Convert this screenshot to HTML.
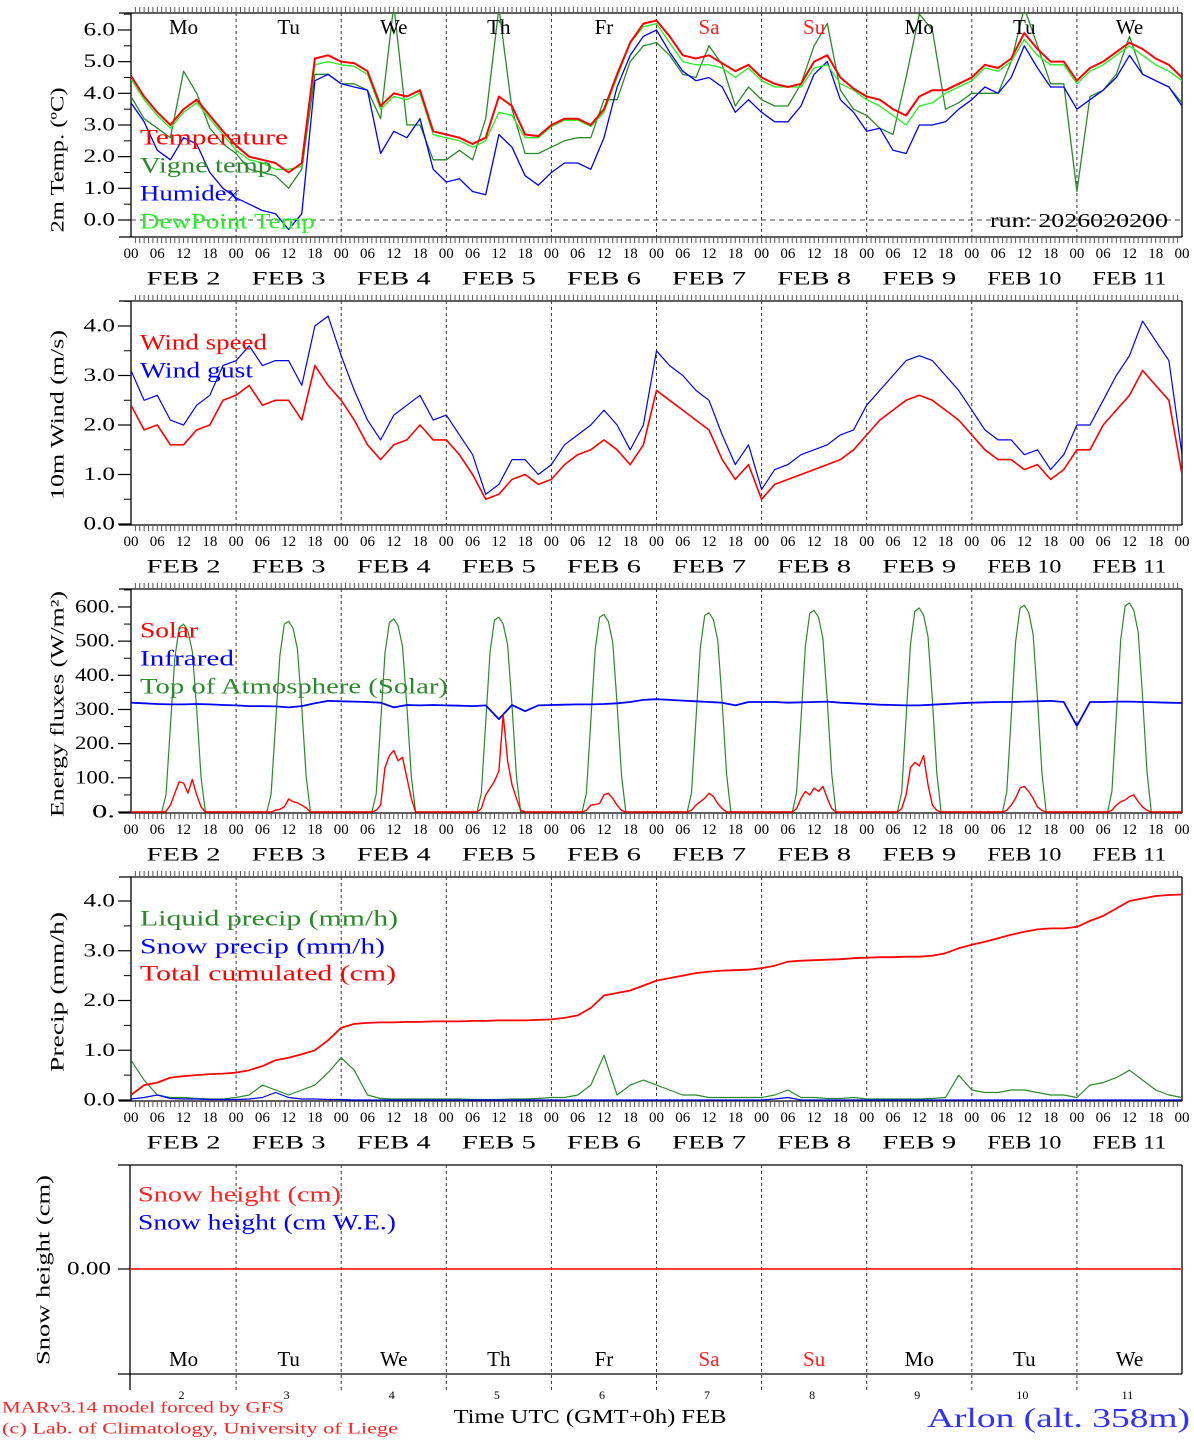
<!DOCTYPE html>
<html><head><meta charset="utf-8"><title>MAR meteogram Arlon</title>
<style>
html,body{margin:0;padding:0;background:#fff;}
svg{display:block;font-family:"Liberation Serif",serif;}
</style></head>
<body>
<svg id="chart" xmlns="http://www.w3.org/2000/svg" width="1194" height="1440" viewBox="0 0 1194 1440">
<defs>
<clipPath id="c1"><rect x="131" y="13" width="1051" height="224"/></clipPath>
<clipPath id="c2"><rect x="131" y="301" width="1051" height="224"/></clipPath>
<clipPath id="c3"><rect x="131" y="589" width="1051" height="224"/></clipPath>
<clipPath id="c4"><rect x="131" y="877" width="1051" height="224"/></clipPath>
</defs>
<g id="root"></g>
</svg>
<script>
// ---- data (3-hourly, 00h Feb 2 .. 00h Feb 12) ----
const dayNames = ["Mo","Tu","We","Th","Fr","Sa","Su","Mo","Tu","We"];
const dayDates = ["2","3","4","5","6","7","8","9","10","11"];
const hourLabels = ["00","06","12","18"];
const temperature = [4.55,3.9,3.4,3.0,3.5,3.8,3.3,2.8,
 2.35,2.0,1.9,1.8,1.5,1.8,5.1,5.2,
 5.0,4.95,4.7,3.6,4.0,3.9,4.1,2.8,
 2.7,2.6,2.4,2.6,3.9,3.6,2.7,2.65,
 3.0,3.2,3.2,3.0,3.5,4.6,5.6,6.2,
 6.3,5.8,5.2,5.1,5.2,4.95,4.7,4.9,
 4.5,4.3,4.2,4.3,5.0,5.2,4.5,4.15,
 3.9,3.8,3.5,3.3,3.9,4.1,4.1,4.3,
 4.5,4.9,4.8,5.1,5.9,5.4,5.0,5.0,
 4.4,4.8,5.0,5.3,5.6,5.4,5.1,4.9,4.5];
const dewPoint = [4.45,3.8,3.3,2.9,3.4,3.7,3.2,2.7,
 2.2,1.9,1.8,1.6,1.6,1.7,4.9,5.0,
 4.9,4.85,4.6,3.5,3.9,3.8,4.0,2.7,
 2.6,2.5,2.3,2.5,3.4,3.3,2.6,2.6,
 2.95,3.15,3.15,2.95,3.4,4.5,5.6,6.1,
 6.2,5.6,5.0,4.9,4.9,4.8,4.5,4.8,
 4.4,4.2,4.2,4.2,4.8,4.9,4.3,4.1,
 3.8,3.6,3.3,3.0,3.6,3.7,4.0,4.2,
 4.4,4.8,4.7,5.0,5.7,5.2,4.9,4.9,
 4.3,4.7,4.9,5.2,5.5,5.2,4.9,4.7,4.4];
const vigneTemp = [3.9,3.2,2.9,2.6,4.7,4.0,2.9,2.4,
 2.1,1.6,1.5,1.4,1.0,1.6,4.6,4.6,
 4.3,4.3,4.1,3.2,6.8,3.0,3.0,1.9,
 1.9,2.2,1.9,3.2,6.7,3.5,2.1,2.1,
 2.3,2.5,2.6,2.6,3.8,3.8,5.0,5.5,
 5.6,5.2,4.6,4.5,5.5,4.9,3.6,4.2,
 3.8,3.6,3.6,4.3,5.5,6.2,4.1,3.5,
 3.3,2.9,2.7,4.5,6.5,6.0,3.5,3.7,
 4.0,4.0,4.0,5.0,6.7,5.5,4.3,4.3,
 0.9,3.9,4.1,4.6,5.8,4.6,4.4,4.2,3.7];
const humidex = [3.7,3.1,2.2,1.9,2.6,2.4,1.5,1.0,
 0.7,0.5,0.3,0.2,-0.3,0.2,4.4,4.6,
 4.3,4.2,4.1,2.1,2.8,2.6,3.2,1.6,
 1.2,1.3,0.9,0.8,2.7,2.3,1.4,1.1,
 1.5,1.8,1.8,1.6,2.6,4.2,5.2,5.8,
 6.0,5.3,4.7,4.4,4.5,4.2,3.4,3.8,
 3.4,3.1,3.1,3.6,4.6,5.0,3.8,3.4,
 2.8,2.9,2.2,2.1,3.0,3.0,3.1,3.5,
 3.8,4.2,4.0,4.5,5.5,4.8,4.2,4.2,
 3.5,3.8,4.1,4.5,5.2,4.6,4.4,4.2,3.6];
const windSpeed = [2.4,1.9,2.0,1.6,1.6,1.9,2.0,2.5,
 2.6,2.8,2.4,2.5,2.5,2.1,3.2,2.8,
 2.5,2.1,1.6,1.3,1.6,1.7,2.0,1.7,
 1.7,1.4,1.0,0.5,0.6,0.9,1.0,0.8,
 0.9,1.2,1.4,1.5,1.7,1.5,1.2,1.6,
 2.7,2.5,2.3,2.1,1.9,1.3,0.9,1.2,
 0.5,0.8,0.9,1.0,1.1,1.2,1.3,1.5,
 1.8,2.1,2.3,2.5,2.6,2.5,2.3,2.1,
 1.8,1.5,1.3,1.3,1.1,1.2,0.9,1.1,
 1.5,1.5,2.0,2.3,2.6,3.1,2.8,2.5,1.0];
const windGust = [3.1,2.5,2.6,2.1,2.0,2.4,2.6,3.2,
 3.3,3.6,3.2,3.3,3.3,2.8,4.0,4.2,
 3.4,2.7,2.1,1.7,2.2,2.4,2.6,2.1,
 2.2,1.8,1.4,0.6,0.8,1.3,1.3,1.0,
 1.2,1.6,1.8,2.0,2.3,2.0,1.5,2.0,
 3.5,3.2,3.0,2.7,2.5,1.8,1.2,1.6,
 0.7,1.1,1.2,1.4,1.5,1.6,1.8,1.9,
 2.4,2.7,3.0,3.3,3.4,3.3,3.0,2.7,
 2.3,1.9,1.7,1.7,1.4,1.5,1.1,1.4,
 2.0,2.0,2.5,3.0,3.4,4.1,3.7,3.3,1.4];
const infrared = [320,318,316,315,315,316,315,313,
 312,310,310,309,306,310,318,325,
 324,323,322,320,306,313,312,313,
 312,311,310,312,272,313,295,312,
 313,314,315,315,316,318,322,328,
 330,328,326,324,322,320,312,322,
 322,322,320,321,322,323,320,318,
 316,314,313,312,312,314,316,318,
 320,321,322,322,323,324,325,322,
 252,322,322,323,323,322,321,320,319];
// hourly daytime values (07h..17h) per day
const solarDay = [
 [0,2,20,55,88,85,55,95,50,15,0],
 [0,0,5,8,15,38,30,27,20,12,0],
 [0,5,20,130,165,180,150,160,100,40,0],
 [0,10,50,70,90,120,285,150,80,40,5],
 [0,5,20,22,25,50,55,40,20,5,0],
 [0,5,20,30,40,55,45,25,10,0,0],
 [0,10,40,60,50,70,60,75,40,10,0],
 [0,10,50,130,145,135,165,80,20,5,0],
 [0,5,20,40,70,75,60,40,15,5,0],
 [0,5,20,30,35,45,50,30,15,5,0]];
const toaDay = [
 [0,50,250,450,540,550,530,470,300,100,0],
 [0,52,255,458,550,558,538,478,305,102,0],
 [0,53,260,465,555,565,545,485,310,104,0],
 [0,54,262,470,562,570,550,490,312,106,0],
 [0,55,266,476,570,578,558,497,316,108,0],
 [0,56,268,480,575,583,563,502,320,110,0],
 [0,57,272,486,582,590,570,508,324,112,0],
 [0,58,275,492,588,597,576,514,328,114,0],
 [0,59,279,498,596,605,584,520,332,116,0],
 [0,60,282,504,603,612,590,526,336,118,0]];
const liquidPrecip = [0.8,0.4,0.1,0.05,0.05,0.03,0.02,0.02,
 0.05,0.1,0.3,0.2,0.1,0.2,0.3,0.55,
 0.85,0.6,0.1,0.03,0.02,0.02,0.02,0.02,
 0.02,0.02,0.01,0.01,0.01,0.02,0.02,0.03,
 0.05,0.05,0.1,0.3,0.9,0.1,0.3,0.4,
 0.3,0.2,0.1,0.1,0.05,0.05,0.05,0.05,
 0.05,0.1,0.2,0.05,0.05,0.03,0.03,0.05,
 0.02,0.02,0.02,0.02,0.02,0.03,0.05,0.5,
 0.2,0.15,0.15,0.2,0.2,0.15,0.1,0.1,
 0.05,0.3,0.35,0.45,0.6,0.4,0.2,0.1,0.05];
const snowPrecip = [0.02,0.05,0.1,0.03,0.02,0.02,0.01,0.01,
 0.01,0.02,0.05,0.15,0.05,0.02,0.02,0.01,
 0.01,0,0,0,0,0,0,0, 0,0,0,0,0,0,0,0,
 0,0,0,0,0,0,0,0, 0,0,0,0,0,0,0,0,
 0,0.02,0.05,0,0,0,0,0, 0,0,0,0,0,0,0,0,
 0,0,0,0,0,0,0,0, 0,0,0,0,0,0,0,0,0];
const totalCumul = [0.1,0.3,0.35,0.45,0.48,0.5,0.52,0.53,
 0.55,0.6,0.68,0.8,0.85,0.92,1.0,1.2,
 1.45,1.53,1.55,1.56,1.56,1.57,1.57,1.58,
 1.58,1.58,1.59,1.59,1.6,1.6,1.6,1.61,
 1.62,1.65,1.7,1.85,2.1,2.15,2.2,2.3,
 2.4,2.45,2.5,2.55,2.58,2.6,2.61,2.62,
 2.65,2.7,2.78,2.8,2.81,2.82,2.83,2.85,
 2.86,2.87,2.87,2.88,2.88,2.9,2.95,3.05,
 3.12,3.18,3.25,3.32,3.38,3.43,3.45,3.45,
 3.48,3.6,3.7,3.85,4.0,4.05,4.1,4.12,4.13];
const snowHeight = [0,0];
const p1Ticks = ["0.0","1.0","2.0","3.0","4.0","5.0","6.0"];
const p2Ticks = ["0.0","1.0","2.0","3.0","4.0"];
const p3Ticks = ["0.","100.","200.","300.","400.","500.","600."];
const p4Ticks = ["0.0","1.0","2.0","3.0","4.0"];

// ---- layout ----
const NS="http://www.w3.org/2000/svg";
const root=document.getElementById('root');
const X0=131, X1=1182, HOURS=240;
function xh(h){return X0+(X1-X0)*h/HOURS;}
function mk(tag,attrs,parent){const e=document.createElementNS(NS,tag);for(const k in attrs)e.setAttribute(k,attrs[k]);(parent||root).appendChild(e);return e;}
function txt(s,x,y,size,fill,anchor,extra){const t=mk('text',Object.assign({x:x,y:y,'font-size':size,fill:fill||'#000','text-anchor':anchor||'start','dominant-baseline':'central'},extra||{}));t.textContent=s;return t;}
function yScale(top,zeroY,perUnit){return v=>zeroY-v*perUnit;}

const panels=[
 {top:13,zero:220,per:31.67,tc:160,tl:145},
 {top:301,zero:524,per:49.5,tc:415,tl:170},
 {top:589,zero:812,per:0.3417,tc:704,tl:226},
 {top:877,zero:1100,per:49.75,tc:992,tl:160}];

function frame(p,idx,ticks,step,minor,title){
 const bot=p.top+224, ys=yScale(p.top,p.zero,p.per);
 const g=mk('g',{});
 
 
 mk('line',{x1:119,y1:p.top,x2:X1,y2:p.top,stroke:'#000','stroke-width':1.3},g);
 mk('line',{x1:119,y1:bot,x2:X1,y2:bot,stroke:'#000','stroke-width':1.3},g);
 mk('line',{x1:X0,y1:p.top,x2:X0,y2:bot,stroke:'#000','stroke-width':1.3},g);
 mk('line',{x1:X1,y1:p.top,x2:X1,y2:bot,stroke:'#000','stroke-width':1.3},g);
 for(let h=1;h<HOURS;h++){const x=xh(h);
  mk('line',{x1:x,y1:p.top-6,x2:x,y2:p.top,stroke:'#555','stroke-width':1},g);
  mk('line',{x1:x,y1:bot,x2:x,y2:bot+6,stroke:'#555','stroke-width':1},g);}
 for(let d=1;d<10;d++){const x=xh(d*24);
  mk('line',{x1:x,y1:p.top,x2:x,y2:bot,stroke:'#333','stroke-width':1,'stroke-dasharray':'3,3'},g);}
 ticks.forEach((lab,i)=>{const y=ys(i*step);
  mk('line',{x1:118,y1:y,x2:X0,y2:y,stroke:'#000','stroke-width':1.2},g);
  const t=txt(lab,115,y,19,'#000','end',{textLength:lab.length*8.5+6,lengthAdjust:'spacingAndGlyphs'});
  
  
  const ym=ys(i*step+minor);
  if(ym>p.top) mk('line',{x1:124,y1:ym,x2:X0,y2:ym,stroke:'#000','stroke-width':1},g);
 });
 const cy=p.tc;
 const tt=txt(title,58,cy,19,'#000','middle',{transform:'rotate(-90 58 '+cy+')',textLength:p.tl,lengthAdjust:'spacingAndGlyphs'});
 
 
 for(let d=0;d<10;d++){
  hourLabels.forEach((hl,k)=>{const t=txt(hl,xh(d*24+k*6),bot+17,15,'#000','middle');
   
   });
  const fb=txt('FEB '+(dayDates[d].length<2?' ':'')+dayDates[d],xh(d*24+12),bot+42,19,'#000','middle',{'xml:space':'preserve',textLength:74,lengthAdjust:'spacingAndGlyphs'});
  
  
 }
 const t0=txt('00',X1,bot+17,15,'#000','middle');
 
 
 return ys;
}
function series(vals,stepH,ys,color,width,clip,name){
 const pts=vals.map((v,i)=>xh(i*stepH).toFixed(1)+','+ys(v).toFixed(1)).join(' ');
 const pl=mk('polyline',{points:pts,fill:'none',stroke:color,'stroke-width':width,'clip-path':'url(#'+clip+')','stroke-linejoin':'round'});
 
 
}
function hourlyFromDays(days){const a=new Array(HOURS+1).fill(0);days.forEach((arr,d)=>arr.forEach((v,k)=>{a[d*24+7+k]=v;}));return a;}
function legend(s,x,y,color,len){const t=txt(s,x,y,22,color,'start',{textLength:len,lengthAdjust:'spacingAndGlyphs'});
 
 }

// Panel 1
const ys1=frame(panels[0],0,p1Ticks,1,0.5,'2m Temp. (\u00BAC)');
const zl=mk('line',{x1:X0,y1:ys1(0),x2:X1,y2:ys1(0),stroke:'#444','stroke-width':1,'stroke-dasharray':'5,4'});


series(vigneTemp,3,ys1,'#2a8a2a',1.3,'c1','vigne-temp-line');
series(humidex,3,ys1,'#0000ff',1.3,'c1','humidex-line');
series(dewPoint,3,ys1,'#22ee22',1.3,'c1','dewpoint-line');
series(temperature,3,ys1,'#ff0000',2,'c1','temperature-line');
dayNames.forEach((n,d)=>{const t=txt(n,xh(d*24+12),27,21,(n==='Sa'||n==='Su')?'#ff2020':'#000','middle');
 
 });
legend('Temperature',140,137,'#ff0000',148);
legend('Vigne temp',140,165,'#2a8a2a',132);
legend('Humidex',140,193,'#0000ff',100);
legend('DewPoint Temp',140,221,'#22ee22',175);
const run=txt('run: 2026020200',1168,221,20,'#000','end',{textLength:178,lengthAdjust:'spacingAndGlyphs'});



// Panel 2
const ys2=frame(panels[1],1,p2Ticks,1,0.5,'10m Wind (m/s)');
series(windGust,3,ys2,'#0000ff',1.2,'c2','wind-gust-line');
series(windSpeed,3,ys2,'#ff0000',1.6,'c2','wind-speed-line');
legend('Wind speed',140,342,'#ff0000',127);
legend('Wind gust',140,370,'#0000ff',113);

// Panel 3
const ys3=frame(panels[2],2,p3Ticks,100,50,'Energy fluxes (W/m\u00B2)');
series(hourlyFromDays(toaDay),1,ys3,'#2a8a2a',1.2,'c3','toa-solar-line');
series(infrared,3,ys3,'#0000ff',1.8,'c3','infrared-line');
series(hourlyFromDays(solarDay),1,ys3,'#ff0000',1.4,'c3','solar-line');
legend('Solar',140,630,'#ff0000',58);
legend('Infrared',140,658,'#0000ff',94);
legend('Top of Atmosphere (Solar)',140,686,'#2a8a2a',308);

// Panel 4
const ys4=frame(panels[3],3,p4Ticks,1,0.5,'Precip (mm/h)');
series(liquidPrecip,3,ys4,'#2a8a2a',1.2,'c4','liquid-precip-line');
series(snowPrecip,3,ys4,'#0000ff',1.2,'c4','snow-precip-line');
series(totalCumul,3,ys4,'#ff0000',1.8,'c4','total-cumulated-line');
legend('Liquid precip (mm/h)',140,918,'#2a8a2a',258);
legend('Snow precip (mm/h)',140,946,'#0000ff',245);
legend('Total cumulated (cm)',140,973,'#ff0000',256);

// Panel 5
(function(){
 const top=1165,bot=1374,X5=130;
 const g=mk('g',{});
 
 
 mk('line',{x1:118,y1:top,x2:X1,y2:top,stroke:'#000','stroke-width':1.3},g);
 mk('line',{x1:118,y1:bot,x2:X1,y2:bot,stroke:'#000','stroke-width':1.3},g);
 mk('line',{x1:X5,y1:top,x2:X5,y2:bot+16,stroke:'#000','stroke-width':1.3},g);
 mk('line',{x1:X1,y1:top,x2:X1,y2:bot,stroke:'#000','stroke-width':1.3},g);
 for(let d=1;d<10;d++){const x=xh(d*24);
  mk('line',{x1:x,y1:top,x2:x,y2:bot+16,stroke:'#333','stroke-width':1,'stroke-dasharray':'3,3'},g);}
 mk('line',{x1:118,y1:1269,x2:X5,y2:1269,stroke:'#000','stroke-width':1.2},g);
 const yl=txt('0.00',111,1269,19,'#000','end',{textLength:44,lengthAdjust:'spacingAndGlyphs'});
 
 
 const ys5=v=>1269-v*100;
 const pl=mk('line',{x1:X5,y1:ys5(snowHeight[0]),x2:X1,y2:ys5(snowHeight[1]),stroke:'#ff2020','stroke-width':1.8});
 
 
 const tt=txt('Snow height (cm)',44,1270,19,'#000','middle',{transform:'rotate(-90 44 1270)',textLength:190,lengthAdjust:'spacingAndGlyphs'});
 
 
 legend('Snow height (cm)',138,1194,'#ff2020',203);
 legend('Snow height (cm W.E.)',138,1222,'#0000ff',258);
 dayNames.forEach((n,d)=>{const t=txt(n,xh(d*24+12),1359,21,(n==='Sa'||n==='Su')?'#ff2020':'#000','middle');
  
  
  const t2=txt(dayDates[d],xh(d*24+12)-2,1395,12,'#000','middle');
  
  });
})();

const tx=txt('Time UTC (GMT+0h) FEB',590,1417,20,'#000','middle',{textLength:273,lengthAdjust:'spacingAndGlyphs'});


const loc=txt('Arlon (alt. 358m)',1190,1418,27,'#3030ff','end',{textLength:263,lengthAdjust:'spacingAndGlyphs'});


const c1=txt('MARv3.14 model forced by GFS',2,1408,16,'#ff2020','start',{textLength:282,lengthAdjust:'spacingAndGlyphs'});


const c2=txt('(c) Lab. of Climatology, University of Liege',2,1429,16,'#ff2020','start',{textLength:396,lengthAdjust:'spacingAndGlyphs'});


</script>
</body></html>
